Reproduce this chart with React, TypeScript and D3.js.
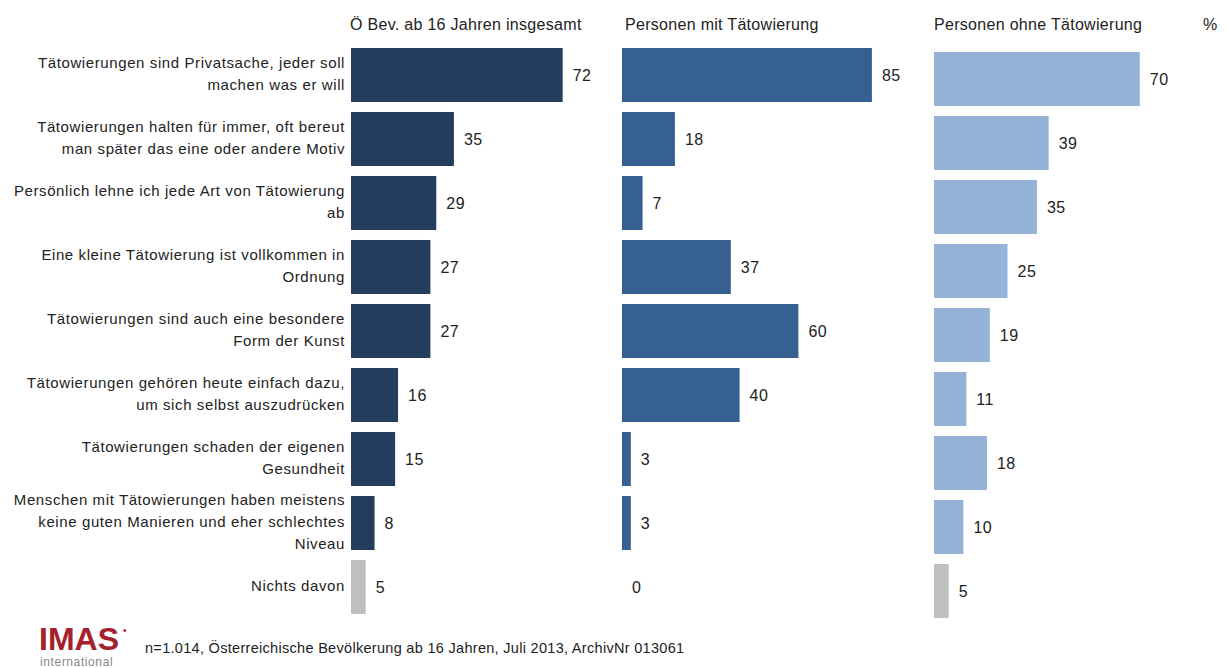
import React from "react";
import * as d3 from "d3";

const categories: string[][] = [
  ["Tätowierungen sind Privatsache, jeder soll", "machen was er will"],
  ["Tätowierungen halten für immer, oft bereut", "man später das eine oder andere Motiv"],
  ["Persönlich lehne ich jede Art von Tätowierung", "ab"],
  ["Eine kleine Tätowierung ist vollkommen in", "Ordnung"],
  ["Tätowierungen sind auch eine besondere", "Form der Kunst"],
  ["Tätowierungen gehören heute einfach dazu,", "um sich selbst auszudrücken"],
  ["Tätowierungen schaden der eigenen", "Gesundheit"],
  ["Menschen mit Tätowierungen haben meistens", "keine guten Manieren und eher schlechtes", "Niveau"],
  ["Nichts davon"],
];

const seriesNames = ["Ö Bev. ab 16 Jahren insgesamt", "Personen mit Tätowierung", "Personen ohne Tätowierung"];
const totalValues = [72, 35, 29, 27, 27, 16, 15, 8, 5];
const withTattoo = [85, 18, 7, 37, 60, 40, 3, 3, 0];
const withoutTattoo = [70, 39, 35, 25, 19, 11, 18, 10, 5];
const seriesColors = ["#243C5E", "#365F92", "#95B3D7"];
const noneColor = "#BFBFBF";

const FONT = "'Liberation Sans', Arial, sans-serif";

export default function App() {
  const panels = [
    { values: totalValues, x0: 351, dy: 0, color: seriesColors[0], name: seriesNames[0], hx: 350 },
    { values: withTattoo, x0: 622, dy: 0, color: seriesColors[1], name: seriesNames[1], hx: 625 },
    { values: withoutTattoo, x0: 934, dy: 4, color: seriesColors[2], name: seriesNames[2], hx: 934 },
  ];
  const xLen = d3.scaleLinear().domain([0, 100]).range([0, 294]);
  const y = d3
    .scaleBand<number>()
    .domain(d3.range(categories.length))
    .range([43, 619])
    .paddingInner(0.156)
    .paddingOuter(0.078);
  const bw = y.bandwidth();
  const lineH = 22;

  return (
    <svg width={1226} height={668} style={{ position: "absolute", left: 0, top: 0, background: "#fff" }} fontFamily={FONT}>
      <rect width={1226} height={668} fill="#fff" />
      {panels.map((p, pi) => (
        <g key={pi}>
          <text x={p.hx} y={30} fontSize={16} letterSpacing={0.3} fill="#222">{p.name}</text>
          {p.values.map((v, i) => {
            const yy = (y(i) as number) + p.dy;
            const w = xLen(v);
            const isNone = i === categories.length - 1;
            return (
              <g key={i}>
                {v > 0 && (
                  <rect x={p.x0} y={yy} width={w} height={bw} fill={isNone ? noneColor : p.color} />
                )}
                <text x={p.x0 + w + 10} y={yy + bw / 2 + 6} fontSize={16} letterSpacing={0.5} fill="#222">{v}</text>
              </g>
            );
          })}
        </g>
      ))}
      <text x={1203} y={30} fontSize={16} fill="#222">%</text>
      {categories.map((lines, i) => {
        const cy = (y(i) as number) + bw / 2;
        const top = cy - ((lines.length - 1) * lineH) / 2;
        return (
          <text key={i} textAnchor="end" fontSize={15} letterSpacing={0.6} fill="#222">
            {lines.map((l, j) => (
              <tspan key={j} x={345} y={top + j * lineH + 4}>{l}</tspan>
            ))}
          </text>
        );
      })}
      <g>
        <text x={39} y={650} fontSize={32} fontWeight="bold" fill="#A5212B" letterSpacing={0}>IMAS</text>
        <text x={123} y={634} fontSize={10} fill="#A5212B">•</text>
        <text x={40} y={666} fontSize={12} letterSpacing={0.6} fill="#888">international</text>
        <text x={145} y={653} fontSize={14.5} letterSpacing={0.3} fill="#222">n=1.014, Österreichische Bevölkerung ab 16 Jahren, Juli 2013, ArchivNr 013061</text>
      </g>
    </svg>
  );
}
